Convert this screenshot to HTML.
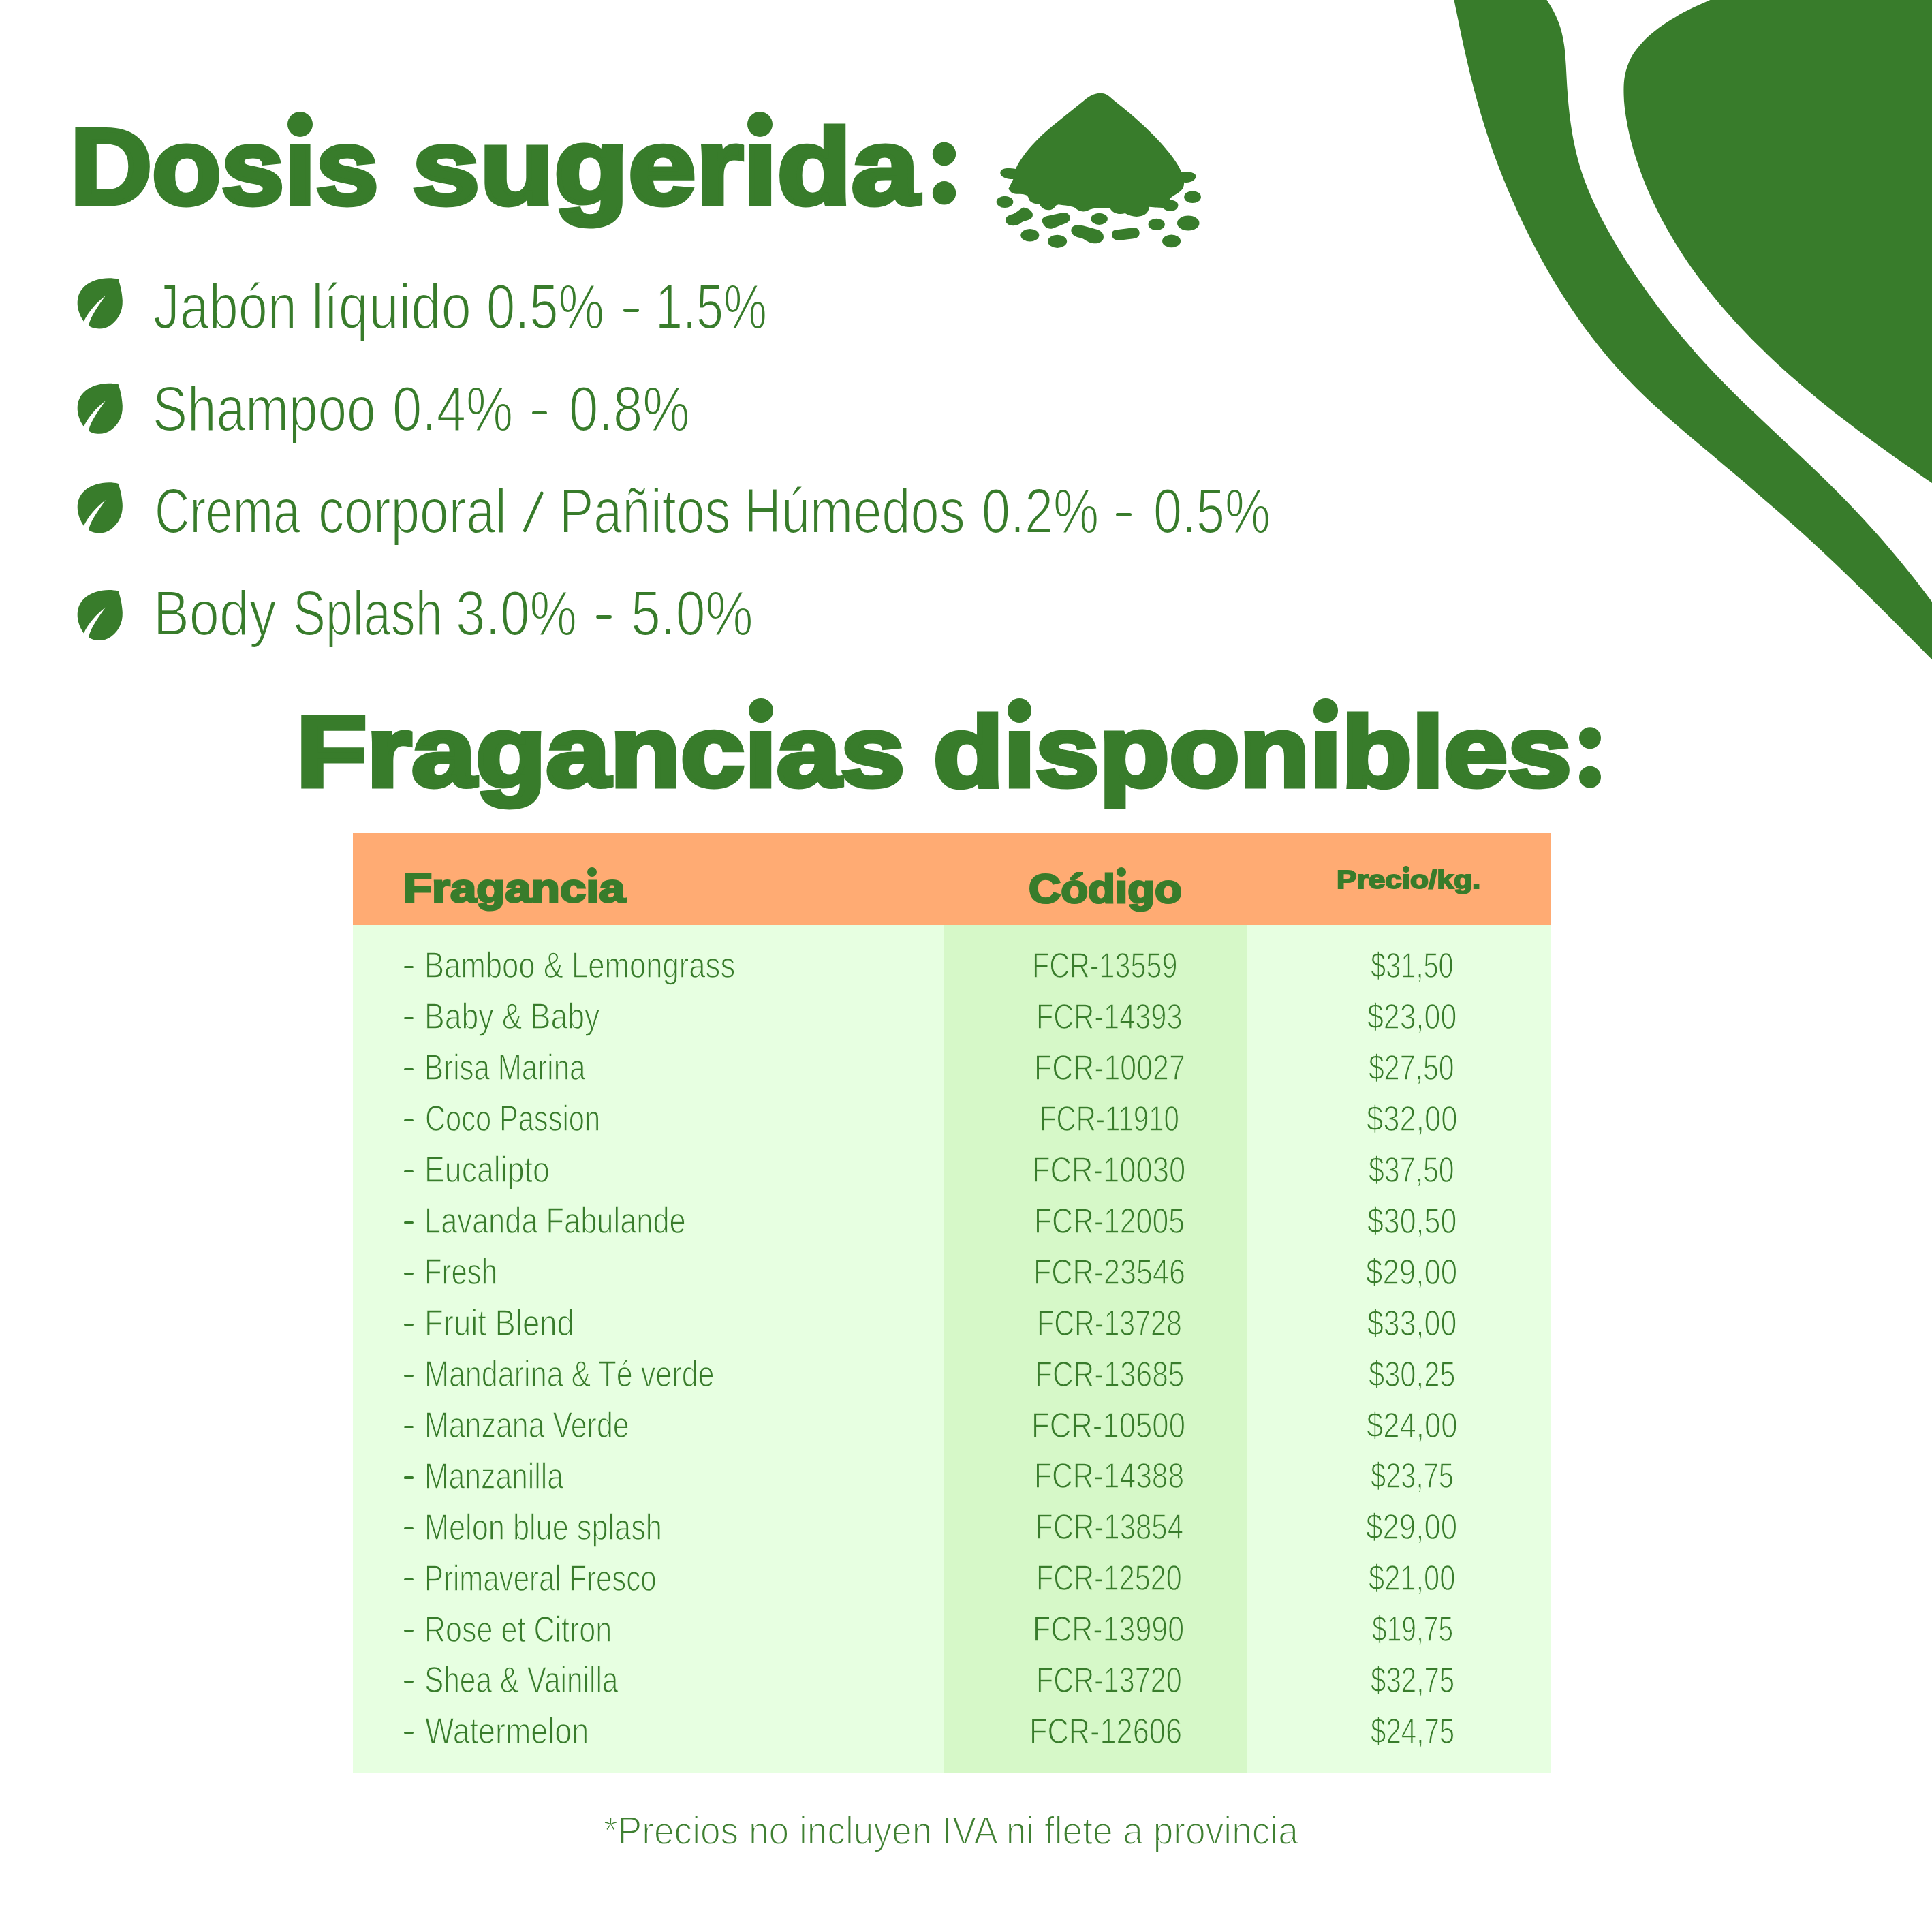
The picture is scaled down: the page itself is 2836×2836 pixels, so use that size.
<!DOCTYPE html>
<html lang="es"><head><meta charset="utf-8"><title>Dosis sugerida</title>
<style>
html,body{margin:0;padding:0;background:#fff;}
body{width:2836px;height:2836px;position:relative;overflow:hidden;font-family:"Liberation Sans",sans-serif;}
.t{position:absolute;white-space:nowrap;transform-origin:0 0;margin:0;padding:0;}
.r{position:absolute;}
svg{position:absolute;left:0;top:0;}
</style></head><body>
<svg width="2836" height="2836" viewBox="0 0 2836 2836" fill="#387C2B">
<path d="M2122.2,-60.0 C2123.5,-53.7 2127.4,-34.7 2130.0,-22.0 C2132.6,-9.3 2135.1,3.4 2137.7,16.1 C2140.3,28.8 2142.9,41.5 2145.6,54.2 C2148.3,66.9 2151.1,79.6 2154.1,92.2 C2157.0,104.8 2160.1,117.4 2163.4,129.9 C2166.7,142.5 2170.1,155.0 2173.8,167.4 C2177.5,179.8 2181.3,192.1 2185.4,204.4 C2189.5,216.7 2193.8,228.9 2198.4,241.0 C2203.0,253.1 2207.8,265.1 2212.8,277.0 C2217.8,289.0 2223.0,300.8 2228.4,312.6 C2233.9,324.4 2239.5,336.1 2245.3,347.7 C2251.2,359.3 2257.2,370.8 2263.5,382.2 C2269.7,393.6 2276.2,404.8 2282.9,415.9 C2289.6,427.1 2296.6,438.0 2303.7,448.8 C2310.9,459.6 2318.3,470.3 2325.9,480.7 C2333.6,491.2 2341.5,501.5 2349.6,511.5 C2357.7,521.6 2366.1,531.4 2374.8,541.0 C2383.4,550.6 2392.4,560.0 2401.5,569.2 C2410.6,578.3 2420.0,587.2 2429.5,596.0 C2439.0,604.8 2448.8,613.3 2458.6,621.8 C2468.3,630.3 2478.3,638.7 2488.2,647.0 C2498.1,655.4 2508.1,663.7 2518.0,672.0 C2527.9,680.4 2537.8,688.7 2547.7,697.1 C2557.6,705.5 2567.5,713.9 2577.3,722.4 C2587.1,730.8 2596.9,739.3 2606.6,747.8 C2616.4,756.4 2626.1,765.0 2635.7,773.6 C2645.4,782.3 2655.0,790.9 2664.5,799.7 C2674.0,808.5 2683.5,817.4 2692.8,826.3 C2702.2,835.2 2711.6,844.2 2720.8,853.2 C2730.1,862.3 2739.3,871.4 2748.5,880.5 C2757.7,889.7 2766.9,898.8 2776.1,908.0 C2785.2,917.2 2794.3,926.4 2803.5,935.6 C2812.6,944.8 2821.7,954.0 2830.9,963.2 C2840.0,972.4 2849.2,981.5 2858.4,990.7 C2867.6,999.8 2881.5,1013.4 2886.1,1017.9 L2875.1,939.9 C2872.5,936.0 2864.7,924.2 2859.3,916.4 C2854.0,908.6 2848.6,900.9 2843.0,893.3 C2837.5,885.6 2831.9,878.0 2826.3,870.5 C2820.6,863.0 2814.8,855.5 2809.0,848.1 C2803.1,840.7 2797.2,833.4 2791.2,826.1 C2785.3,818.8 2779.2,811.6 2773.1,804.4 C2766.9,797.2 2760.7,790.1 2754.5,783.1 C2748.2,776.1 2741.8,769.1 2735.4,762.1 C2729.0,755.2 2722.6,748.3 2716.1,741.5 C2709.5,734.7 2702.9,728.0 2696.3,721.3 C2689.6,714.5 2682.9,707.9 2676.2,701.3 C2669.4,694.7 2662.6,688.2 2655.8,681.7 C2648.9,675.2 2642.1,668.7 2635.2,662.2 C2628.3,655.8 2621.4,649.3 2614.5,642.9 C2607.6,636.4 2600.7,630.0 2593.8,623.5 C2586.9,617.1 2580.1,610.6 2573.2,604.1 C2566.4,597.6 2559.6,591.0 2552.9,584.4 C2546.2,577.8 2539.5,571.2 2532.9,564.5 C2526.3,557.8 2519.7,551.0 2513.3,544.2 C2506.8,537.3 2500.4,530.4 2494.1,523.4 C2487.8,516.4 2481.6,509.3 2475.5,502.1 C2469.4,495.0 2463.3,487.7 2457.4,480.4 C2451.5,473.1 2445.6,465.7 2439.9,458.3 C2434.1,450.8 2428.5,443.3 2422.9,435.6 C2417.4,428.0 2411.9,420.3 2406.6,412.5 C2401.2,404.7 2396.0,396.9 2390.9,388.9 C2385.7,381.0 2380.7,373.0 2375.8,364.9 C2370.9,356.8 2366.1,348.6 2361.5,340.3 C2356.8,332.1 2352.3,323.7 2348.1,315.3 C2343.9,306.8 2339.8,298.3 2336.0,289.6 C2332.2,281.0 2328.7,272.3 2325.5,263.5 C2322.3,254.6 2319.4,245.7 2316.9,236.7 C2314.4,227.6 2312.3,218.5 2310.4,209.3 C2308.5,200.1 2307.0,190.8 2305.7,181.4 C2304.3,172.1 2303.3,162.6 2302.4,153.2 C2301.5,143.7 2300.8,134.2 2300.2,124.8 C2299.6,115.3 2299.3,105.7 2298.7,96.3 C2298.0,86.8 2297.6,77.4 2296.3,68.1 C2294.9,58.9 2293.4,49.7 2290.6,40.9 C2287.8,32.0 2284.1,23.4 2279.7,15.1 C2275.3,6.8 2269.9,-1.2 2264.1,-8.9 C2258.4,-16.5 2251.9,-23.8 2245.4,-30.7 C2238.8,-37.5 2228.3,-46.8 2224.9,-50.0 Z"/>
<path d="M2620.0,-50.0 C2615.6,-47.6 2602.7,-40.1 2593.9,-35.7 C2585.0,-31.2 2576.0,-27.3 2567.0,-23.3 C2558.0,-19.4 2548.9,-15.8 2539.8,-12.1 C2530.7,-8.3 2521.6,-4.8 2512.5,-0.9 C2503.5,3.0 2494.5,6.8 2485.7,11.1 C2476.9,15.4 2468.1,19.8 2459.6,24.9 C2451.0,29.9 2442.5,35.3 2434.5,41.3 C2426.6,47.4 2418.5,54.0 2411.8,61.2 C2405.1,68.3 2398.8,76.1 2394.3,84.5 C2389.9,92.8 2386.9,102.0 2385.1,111.3 C2383.3,120.7 2383.3,130.7 2383.6,140.5 C2383.8,150.4 2385.1,160.4 2386.5,170.3 C2388.0,180.1 2390.0,190.0 2392.2,199.7 C2394.5,209.4 2397.3,219.0 2400.2,228.5 C2403.1,238.0 2406.4,247.4 2409.9,256.7 C2413.3,265.9 2417.1,275.0 2421.0,284.1 C2424.9,293.1 2429.1,301.9 2433.5,310.7 C2437.9,319.5 2442.5,328.1 2447.3,336.6 C2452.1,345.1 2457.1,353.6 2462.3,361.8 C2467.5,370.1 2472.9,378.3 2478.4,386.4 C2484.0,394.4 2489.7,402.4 2495.6,410.2 C2501.5,418.1 2507.5,425.8 2513.7,433.4 C2519.9,441.1 2526.2,448.6 2532.7,456.0 C2539.2,463.5 2545.8,470.8 2552.5,478.0 C2559.2,485.2 2566.1,492.3 2573.0,499.4 C2580.0,506.4 2587.1,513.3 2594.2,520.2 C2601.4,527.0 2608.6,533.7 2615.9,540.4 C2623.3,547.0 2630.7,553.6 2638.1,560.1 C2645.6,566.6 2653.2,572.9 2660.7,579.2 C2668.3,585.6 2676.0,591.8 2683.7,597.9 C2691.3,604.1 2699.1,610.1 2706.9,616.1 C2714.7,622.2 2722.5,628.1 2730.4,634.0 C2738.2,639.9 2746.1,645.7 2754.1,651.5 C2762.0,657.2 2770.0,663.0 2778.0,668.7 C2786.0,674.4 2794.1,680.0 2802.1,685.6 C2810.2,691.3 2818.3,696.9 2826.4,702.4 C2834.5,708.0 2842.7,713.5 2850.8,719.1 C2859.0,724.6 2867.1,730.1 2875.3,735.7 C2883.5,741.2 2895.8,749.5 2899.9,752.2 L2900,-60 Z"/>
<g transform="translate(1400,100) scale(0.23292)">
<path d="M925,158 C880,158 850,180 820,205 L640,350 C540,430 440,530 390,635 C350,630 310,625 295,650 C285,680 320,700 375,700 L345,760 C360,790 380,795 420,793 C450,795 465,800 470,815 C475,850 510,855 540,858 C560,900 620,910 645,865 L660,860 C700,865 740,870 760,878 C790,905 820,910 850,895 C880,880 920,880 985,882 C1000,915 1040,925 1080,915 C1120,940 1180,945 1215,915 C1228,900 1230,885 1232,875 C1270,880 1300,878 1318,882 C1340,905 1390,910 1410,880 C1425,850 1400,835 1360,828 C1380,795 1440,790 1450,740 L1452,720 C1500,725 1520,705 1528,685 C1525,655 1480,650 1435,655 C1400,570 1300,460 1200,365 C1120,290 1050,235 1000,195 C975,172 955,158 925,158 Z"/>

<ellipse cx="322" cy="843" rx="53" ry="37"/>
<ellipse cx="917" cy="950" rx="53" ry="37"/>
<ellipse cx="1278" cy="985" rx="52" ry="37"/>
<ellipse cx="1478" cy="977" rx="70" ry="47"/>
<ellipse cx="1505" cy="812" rx="53" ry="38"/>
<ellipse cx="480" cy="1053" rx="58" ry="40"/>
<ellipse cx="653" cy="1092" rx="60" ry="41"/>
<ellipse cx="1372" cy="1090" rx="58" ry="40"/>
<path d="M437,878 C470,882 498,900 498,925 C498,950 470,958 440,966 C420,972 415,990 385,992 C350,995 327,980 327,958 C327,935 350,925 372,920 C395,912 415,890 437,878 Z"/>
<path d="M590,932 L680,912 C715,905 735,925 733,948 C732,965 715,975 700,980 L625,1010 C595,1020 570,1000 560,975 C550,950 565,938 590,932 Z"/>
<path d="M770,990 C790,985 810,992 830,997 L905,1017 C935,1027 950,1050 943,1075 C935,1098 905,1108 875,1103 C850,1100 835,1085 815,1075 C795,1065 765,1068 748,1045 C730,1020 745,995 770,990 Z"/>
<path d="M1020,1020 L1130,1006 C1160,1003 1175,1025 1170,1048 C1165,1068 1145,1075 1125,1075 L1045,1085 C1015,1088 995,1070 996,1048 C997,1030 1005,1023 1020,1020 Z"/>
</g>
<path transform="translate(90,390.0) scale(0.15528)" d="M540,128 C440,105 300,120 215,200 C140,270 125,400 212,527 C260,430 330,350 418,283 C350,380 280,470 258,565 C300,600 400,612 470,560 C560,490 590,400 575,290 C570,230 555,180 540,128 Z"/>
<path transform="translate(90,544.4) scale(0.15528)" d="M540,128 C440,105 300,120 215,200 C140,270 125,400 212,527 C260,430 330,350 418,283 C350,380 280,470 258,565 C300,600 400,612 470,560 C560,490 590,400 575,290 C570,230 555,180 540,128 Z"/>
<path transform="translate(90,690.0) scale(0.15528)" d="M540,128 C440,105 300,120 215,200 C140,270 125,400 212,527 C260,430 330,350 418,283 C350,380 280,470 258,565 C300,600 400,612 470,560 C560,490 590,400 575,290 C570,230 555,180 540,128 Z"/>
<path transform="translate(90,847.6) scale(0.15528)" d="M540,128 C440,105 300,120 215,200 C140,270 125,400 212,527 C260,430 330,350 418,283 C350,380 280,470 258,565 C300,600 400,612 470,560 C560,490 590,400 575,290 C570,230 555,180 540,128 Z"/>

<circle cx="1386" cy="226" r="17.2"/><circle cx="1386" cy="283.3" r="17.2"/>
<circle cx="2334" cy="1083.3" r="16"/><circle cx="2334" cy="1140.7" r="16"/>

</svg>
<div class="r" style="left:518px;top:1223px;width:1758px;height:135px;background:#FFAB73"></div>
<div class="r" style="left:518px;top:1358px;width:1758px;height:1245px;background:#E7FFE1"></div>
<div class="r" style="left:1385.5px;top:1358px;width:445.3px;height:1245px;background:#D6F8C8"></div>
<div id="tx" style="position:absolute;left:0;top:0;width:2836px;height:2836px;will-change:transform">
<div class="t" style="left:103.03px;top:150.38px;font-size:157.27px;line-height:189px;font-weight:700;color:#387C2B;-webkit-text-stroke:7px #387C2B;transform:scaleX(1.0574)">Dosıs</div>
<div class="t" style="left:604.60px;top:150.38px;font-size:157.27px;line-height:189px;font-weight:700;color:#387C2B;-webkit-text-stroke:7px #387C2B;transform:scaleX(1.1350)">sugerıda</div>
<div class="t" style="left:435.26px;top:1015.11px;font-size:146.8px;line-height:176px;font-weight:700;color:#387C2B;-webkit-text-stroke:7px #387C2B;transform:scaleX(1.1523)">Fragancıas</div>
<div class="t" style="left:1369.93px;top:1015.11px;font-size:146.8px;line-height:176px;font-weight:700;color:#387C2B;-webkit-text-stroke:7px #387C2B;transform:scaleX(1.1486)">dısponıbles</div>
<div class="t" style="left:225.42px;top:394.90px;font-size:92.01px;line-height:110px;font-weight:400;color:#387C2B;-webkit-text-stroke:2px #fff;transform:scaleX(0.8408)">Jabón</div>
<div class="t" style="left:456.84px;top:394.90px;font-size:92.01px;line-height:110px;font-weight:400;color:#387C2B;-webkit-text-stroke:2px #fff;transform:scaleX(0.8664)">líquido</div>
<div class="t" style="left:714.30px;top:394.90px;font-size:92.01px;line-height:110px;font-weight:400;color:#387C2B;-webkit-text-stroke:2px #fff;transform:scaleX(0.8257)">0.5%</div>
<div class="t" style="left:962.35px;top:394.90px;font-size:92.01px;line-height:110px;font-weight:400;color:#387C2B;-webkit-text-stroke:2px #fff;transform:scaleX(0.7817)">1.5%</div>
<div class="t" style="left:224.44px;top:545.40px;font-size:92.01px;line-height:110px;font-weight:400;color:#387C2B;-webkit-text-stroke:2px #fff;transform:scaleX(0.8319)">Shampoo</div>
<div class="t" style="left:576.12px;top:545.40px;font-size:92.01px;line-height:110px;font-weight:400;color:#387C2B;-webkit-text-stroke:2px #fff;transform:scaleX(0.8445)">0.4%</div>
<div class="t" style="left:834.71px;top:545.40px;font-size:92.01px;line-height:110px;font-weight:400;color:#387C2B;-webkit-text-stroke:2px #fff;transform:scaleX(0.8465)">0.8%</div>
<div class="t" style="left:226.63px;top:694.70px;font-size:92.01px;line-height:110px;font-weight:400;color:#387C2B;-webkit-text-stroke:2px #fff;transform:scaleX(0.7734)">Crema</div>
<div class="t" style="left:466.67px;top:694.70px;font-size:92.01px;line-height:110px;font-weight:400;color:#387C2B;-webkit-text-stroke:2px #fff;transform:scaleX(0.8328)">corporal</div>
<div class="t" style="left:820.55px;top:694.70px;font-size:92.01px;line-height:110px;font-weight:400;color:#387C2B;-webkit-text-stroke:2px #fff;transform:scaleX(0.8190)">Pañitos</div>
<div class="t" style="left:1092.00px;top:694.70px;font-size:92.01px;line-height:110px;font-weight:400;color:#387C2B;-webkit-text-stroke:2px #fff;transform:scaleX(0.8244)">Húmedos</div>
<div class="t" style="left:1440.52px;top:694.70px;font-size:92.01px;line-height:110px;font-weight:400;color:#387C2B;-webkit-text-stroke:2px #fff;transform:scaleX(0.8207)">0.2%</div>
<div class="t" style="left:1692.92px;top:694.70px;font-size:92.01px;line-height:110px;font-weight:400;color:#387C2B;-webkit-text-stroke:2px #fff;transform:scaleX(0.8207)">0.5%</div>
<div class="t" style="left:225.01px;top:844.60px;font-size:92.01px;line-height:110px;font-weight:400;color:#387C2B;-webkit-text-stroke:2px #fff;transform:scaleX(0.8615)">Body</div>
<div class="t" style="left:430.40px;top:844.60px;font-size:92.01px;line-height:110px;font-weight:400;color:#387C2B;-webkit-text-stroke:2px #fff;transform:scaleX(0.7807)">Splash</div>
<div class="t" style="left:669.00px;top:844.60px;font-size:92.01px;line-height:110px;font-weight:400;color:#387C2B;-webkit-text-stroke:2px #fff;transform:scaleX(0.8490)">3.0%</div>
<div class="t" style="left:926.07px;top:844.60px;font-size:92.01px;line-height:110px;font-weight:400;color:#387C2B;-webkit-text-stroke:2px #fff;transform:scaleX(0.8564)">5.0%</div>
<div class="t" style="left:591.52px;top:1268.34px;font-size:59.88px;line-height:72px;font-weight:700;color:#387C2B;-webkit-text-stroke:3px #387C2B;transform:scaleX(1.1516)">Fragancıa</div>
<div class="t" style="left:1510.25px;top:1268.64px;font-size:59.59px;line-height:72px;font-weight:700;color:#387C2B;-webkit-text-stroke:3px #387C2B;transform:scaleX(1.0969)">Códıgo</div>
<div class="t" style="left:1961.83px;top:1268.50px;font-size:37.79px;line-height:45px;font-weight:700;color:#387C2B;-webkit-text-stroke:2px #387C2B;transform:scaleX(1.1696)">Precıo/kg.</div>
<div class="t" style="left:622.75px;top:1385.31px;font-size:52.76px;line-height:63px;font-weight:400;color:#387C2B;-webkit-text-stroke:1.3px #E7FFE1;transform:scaleX(0.8276)">Bamboo &amp; Lemongrass</div>
<div class="t" style="left:1515.41px;top:1386.06px;font-size:52.04px;line-height:62px;font-weight:400;color:#387C2B;-webkit-text-stroke:1.3px #D6F8C8;transform:scaleX(0.7932)">FCR-13559</div>
<div class="t" style="left:2011.70px;top:1386.06px;font-size:52.04px;line-height:62px;font-weight:400;color:#387C2B;-webkit-text-stroke:1.3px #E7FFE1;transform:scaleX(0.7646)">$31,50</div>
<div class="t" style="left:622.68px;top:1460.25px;font-size:52.76px;line-height:63px;font-weight:400;color:#387C2B;-webkit-text-stroke:1.3px #E7FFE1;transform:scaleX(0.8435)">Baby &amp; Baby</div>
<div class="t" style="left:1520.99px;top:1461.00px;font-size:52.04px;line-height:62px;font-weight:400;color:#387C2B;-webkit-text-stroke:1.3px #D6F8C8;transform:scaleX(0.7974)">FCR-14393</div>
<div class="t" style="left:2006.76px;top:1461.00px;font-size:52.04px;line-height:62px;font-weight:400;color:#387C2B;-webkit-text-stroke:1.3px #E7FFE1;transform:scaleX(0.8249)">$23,00</div>
<div class="t" style="left:622.89px;top:1535.19px;font-size:52.76px;line-height:63px;font-weight:400;color:#387C2B;-webkit-text-stroke:1.3px #E7FFE1;transform:scaleX(0.7988)">Brisa Marina</div>
<div class="t" style="left:1518.27px;top:1535.94px;font-size:52.04px;line-height:62px;font-weight:400;color:#387C2B;-webkit-text-stroke:1.3px #D6F8C8;transform:scaleX(0.8246)">FCR-10027</div>
<div class="t" style="left:2009.39px;top:1535.94px;font-size:52.04px;line-height:62px;font-weight:400;color:#387C2B;-webkit-text-stroke:1.3px #E7FFE1;transform:scaleX(0.7889)">$27,50</div>
<div class="t" style="left:623.71px;top:1610.13px;font-size:52.76px;line-height:63px;font-weight:400;color:#387C2B;-webkit-text-stroke:1.3px #E7FFE1;transform:scaleX(0.7901)">Coco Passion</div>
<div class="t" style="left:1525.60px;top:1610.88px;font-size:52.04px;line-height:62px;font-weight:400;color:#387C2B;-webkit-text-stroke:1.3px #D6F8C8;transform:scaleX(0.7733)">FCR-11910</div>
<div class="t" style="left:2005.65px;top:1610.88px;font-size:52.04px;line-height:62px;font-weight:400;color:#387C2B;-webkit-text-stroke:1.3px #E7FFE1;transform:scaleX(0.8390)">$32,00</div>
<div class="t" style="left:622.66px;top:1685.07px;font-size:52.76px;line-height:63px;font-weight:400;color:#387C2B;-webkit-text-stroke:1.3px #E7FFE1;transform:scaleX(0.8471)">Eucalipto</div>
<div class="t" style="left:1515.21px;top:1685.82px;font-size:52.04px;line-height:62px;font-weight:400;color:#387C2B;-webkit-text-stroke:1.3px #D6F8C8;transform:scaleX(0.8376)">FCR-10030</div>
<div class="t" style="left:2009.39px;top:1685.82px;font-size:52.04px;line-height:62px;font-weight:400;color:#387C2B;-webkit-text-stroke:1.3px #E7FFE1;transform:scaleX(0.7889)">$37,50</div>
<div class="t" style="left:622.77px;top:1760.01px;font-size:52.76px;line-height:63px;font-weight:400;color:#387C2B;-webkit-text-stroke:1.3px #E7FFE1;transform:scaleX(0.8227)">Lavanda Fabulande</div>
<div class="t" style="left:1518.28px;top:1760.76px;font-size:52.04px;line-height:62px;font-weight:400;color:#387C2B;-webkit-text-stroke:1.3px #D6F8C8;transform:scaleX(0.8215)">FCR-12005</div>
<div class="t" style="left:2006.76px;top:1760.76px;font-size:52.04px;line-height:62px;font-weight:400;color:#387C2B;-webkit-text-stroke:1.3px #E7FFE1;transform:scaleX(0.8249)">$30,50</div>
<div class="t" style="left:622.91px;top:1834.95px;font-size:52.76px;line-height:63px;font-weight:400;color:#387C2B;-webkit-text-stroke:1.3px #E7FFE1;transform:scaleX(0.7940)">Fresh</div>
<div class="t" style="left:1517.15px;top:1835.70px;font-size:52.04px;line-height:62px;font-weight:400;color:#387C2B;-webkit-text-stroke:1.3px #D6F8C8;transform:scaleX(0.8288)">FCR-23546</div>
<div class="t" style="left:2004.95px;top:1835.70px;font-size:52.04px;line-height:62px;font-weight:400;color:#387C2B;-webkit-text-stroke:1.3px #E7FFE1;transform:scaleX(0.8435)">$29,00</div>
<div class="t" style="left:622.59px;top:1909.89px;font-size:52.76px;line-height:63px;font-weight:400;color:#387C2B;-webkit-text-stroke:1.3px #E7FFE1;transform:scaleX(0.8615)">Fruit Blend</div>
<div class="t" style="left:1521.82px;top:1910.64px;font-size:52.04px;line-height:62px;font-weight:400;color:#387C2B;-webkit-text-stroke:1.3px #D6F8C8;transform:scaleX(0.7917)">FCR-13728</div>
<div class="t" style="left:2006.76px;top:1910.64px;font-size:52.04px;line-height:62px;font-weight:400;color:#387C2B;-webkit-text-stroke:1.3px #E7FFE1;transform:scaleX(0.8249)">$33,00</div>
<div class="t" style="left:622.80px;top:1984.83px;font-size:52.76px;line-height:63px;font-weight:400;color:#387C2B;-webkit-text-stroke:1.3px #E7FFE1;transform:scaleX(0.8169)">Mandarina &amp; Té verde</div>
<div class="t" style="left:1519.11px;top:1985.58px;font-size:52.04px;line-height:62px;font-weight:400;color:#387C2B;-webkit-text-stroke:1.3px #D6F8C8;transform:scaleX(0.8158)">FCR-13685</div>
<div class="t" style="left:2009.38px;top:1985.58px;font-size:52.04px;line-height:62px;font-weight:400;color:#387C2B;-webkit-text-stroke:1.3px #E7FFE1;transform:scaleX(0.8011)">$30,25</div>
<div class="t" style="left:622.82px;top:2059.77px;font-size:52.76px;line-height:63px;font-weight:400;color:#387C2B;-webkit-text-stroke:1.3px #E7FFE1;transform:scaleX(0.8136)">Manzana Verde</div>
<div class="t" style="left:1514.49px;top:2060.52px;font-size:52.04px;line-height:62px;font-weight:400;color:#387C2B;-webkit-text-stroke:1.3px #D6F8C8;transform:scaleX(0.8402)">FCR-10500</div>
<div class="t" style="left:2005.65px;top:2060.52px;font-size:52.04px;line-height:62px;font-weight:400;color:#387C2B;-webkit-text-stroke:1.3px #E7FFE1;transform:scaleX(0.8390)">$24,00</div>
<div class="t" style="left:622.84px;top:2134.71px;font-size:52.76px;line-height:63px;font-weight:400;color:#387C2B;-webkit-text-stroke:1.3px #E7FFE1;transform:scaleX(0.8092)">Manzanilla</div>
<div class="t" style="left:1518.29px;top:2135.46px;font-size:52.04px;line-height:62px;font-weight:400;color:#387C2B;-webkit-text-stroke:1.3px #D6F8C8;transform:scaleX(0.8188)">FCR-14388</div>
<div class="t" style="left:2012.40px;top:2135.46px;font-size:52.04px;line-height:62px;font-weight:400;color:#387C2B;-webkit-text-stroke:1.3px #E7FFE1;transform:scaleX(0.7652)">$23,75</div>
<div class="t" style="left:622.78px;top:2209.65px;font-size:52.76px;line-height:63px;font-weight:400;color:#387C2B;-webkit-text-stroke:1.3px #E7FFE1;transform:scaleX(0.8205)">Melon blue splash</div>
<div class="t" style="left:1520.25px;top:2210.40px;font-size:52.04px;line-height:62px;font-weight:400;color:#387C2B;-webkit-text-stroke:1.3px #D6F8C8;transform:scaleX(0.8070)">FCR-13854</div>
<div class="t" style="left:2004.95px;top:2210.40px;font-size:52.04px;line-height:62px;font-weight:400;color:#387C2B;-webkit-text-stroke:1.3px #E7FFE1;transform:scaleX(0.8435)">$29,00</div>
<div class="t" style="left:622.90px;top:2284.59px;font-size:52.76px;line-height:63px;font-weight:400;color:#387C2B;-webkit-text-stroke:1.3px #E7FFE1;transform:scaleX(0.7961)">Primaveral Fresco</div>
<div class="t" style="left:1521.00px;top:2285.34px;font-size:52.04px;line-height:62px;font-weight:400;color:#387C2B;-webkit-text-stroke:1.3px #D6F8C8;transform:scaleX(0.7948)">FCR-12520</div>
<div class="t" style="left:2008.68px;top:2285.34px;font-size:52.04px;line-height:62px;font-weight:400;color:#387C2B;-webkit-text-stroke:1.3px #E7FFE1;transform:scaleX(0.8005)">$21,00</div>
<div class="t" style="left:622.80px;top:2359.53px;font-size:52.76px;line-height:63px;font-weight:400;color:#387C2B;-webkit-text-stroke:1.3px #E7FFE1;transform:scaleX(0.8164)">Rose et Citron</div>
<div class="t" style="left:1516.36px;top:2360.28px;font-size:52.04px;line-height:62px;font-weight:400;color:#387C2B;-webkit-text-stroke:1.3px #D6F8C8;transform:scaleX(0.8261)">FCR-13990</div>
<div class="t" style="left:2014.31px;top:2360.28px;font-size:52.04px;line-height:62px;font-weight:400;color:#387C2B;-webkit-text-stroke:1.3px #E7FFE1;transform:scaleX(0.7479)">$19,75</div>
<div class="t" style="left:622.97px;top:2434.47px;font-size:52.76px;line-height:63px;font-weight:400;color:#387C2B;-webkit-text-stroke:1.3px #E7FFE1;transform:scaleX(0.8038)">Shea &amp; Vainilla</div>
<div class="t" style="left:1521.00px;top:2435.22px;font-size:52.04px;line-height:62px;font-weight:400;color:#387C2B;-webkit-text-stroke:1.3px #D6F8C8;transform:scaleX(0.7948)">FCR-13720</div>
<div class="t" style="left:2011.70px;top:2435.22px;font-size:52.04px;line-height:62px;font-weight:400;color:#387C2B;-webkit-text-stroke:1.3px #E7FFE1;transform:scaleX(0.7742)">$32,75</div>
<div class="t" style="left:623.65px;top:2509.41px;font-size:52.76px;line-height:63px;font-weight:400;color:#387C2B;-webkit-text-stroke:1.3px #E7FFE1;transform:scaleX(0.8504)">Watermelon</div>
<div class="t" style="left:1510.83px;top:2510.16px;font-size:52.04px;line-height:62px;font-weight:400;color:#387C2B;-webkit-text-stroke:1.3px #D6F8C8;transform:scaleX(0.8330)">FCR-12606</div>
<div class="t" style="left:2011.70px;top:2510.16px;font-size:52.04px;line-height:62px;font-weight:400;color:#387C2B;-webkit-text-stroke:1.3px #E7FFE1;transform:scaleX(0.7742)">$24,75</div>
<div class="t" style="left:886.37px;top:2652.94px;font-size:57.85px;line-height:69px;font-weight:400;color:#3F8032;-webkit-text-stroke:1.8px #fff;transform:scaleX(0.9202)">*Precios no incluyen IVA ni flete a provincia</div>
<div class="r" style="left:915.2px;top:453.1px;width:22.9px;height:4.8px;border-radius:2.4px;background:#387C2B"></div>
<div class="r" style="left:780.5px;top:603.6px;width:22.8px;height:4.8px;border-radius:2.4px;background:#387C2B"></div>
<svg width="40" height="70" viewBox="0 0 40 70" style="left:762.6px;top:716.6px"><line x1="7.4" y1="61.7" x2="32.1" y2="7.0" stroke="#387C2B" stroke-width="4.8" stroke-linecap="round"/></svg>
<div class="r" style="left:1638.1px;top:752.9px;width:22.9px;height:4.8px;border-radius:2.4px;background:#387C2B"></div>
<div class="r" style="left:874.8px;top:902.8px;width:22.8px;height:4.8px;border-radius:2.4px;background:#387C2B"></div>
<div class="r" style="left:592.9px;top:1418.05px;width:14.2px;height:3.1px;border-radius:1.6px;background:#387C2B"></div>
<div class="r" style="left:592.9px;top:1492.99px;width:14.2px;height:3.1px;border-radius:1.6px;background:#387C2B"></div>
<div class="r" style="left:592.9px;top:1567.93px;width:14.2px;height:3.1px;border-radius:1.6px;background:#387C2B"></div>
<div class="r" style="left:592.9px;top:1642.87px;width:14.2px;height:3.1px;border-radius:1.6px;background:#387C2B"></div>
<div class="r" style="left:592.9px;top:1717.81px;width:14.2px;height:3.1px;border-radius:1.6px;background:#387C2B"></div>
<div class="r" style="left:592.9px;top:1792.75px;width:14.2px;height:3.1px;border-radius:1.6px;background:#387C2B"></div>
<div class="r" style="left:592.9px;top:1867.69px;width:14.2px;height:3.1px;border-radius:1.6px;background:#387C2B"></div>
<div class="r" style="left:592.9px;top:1942.63px;width:14.2px;height:3.1px;border-radius:1.6px;background:#387C2B"></div>
<div class="r" style="left:592.9px;top:2017.57px;width:14.2px;height:3.1px;border-radius:1.6px;background:#387C2B"></div>
<div class="r" style="left:592.9px;top:2092.51px;width:14.2px;height:3.1px;border-radius:1.6px;background:#387C2B"></div>
<div class="r" style="left:592.9px;top:2167.45px;width:14.2px;height:3.1px;border-radius:1.6px;background:#387C2B"></div>
<div class="r" style="left:592.9px;top:2242.39px;width:14.2px;height:3.1px;border-radius:1.6px;background:#387C2B"></div>
<div class="r" style="left:592.9px;top:2317.33px;width:14.2px;height:3.1px;border-radius:1.6px;background:#387C2B"></div>
<div class="r" style="left:592.9px;top:2392.27px;width:14.2px;height:3.1px;border-radius:1.6px;background:#387C2B"></div>
<div class="r" style="left:592.9px;top:2467.21px;width:14.2px;height:3.1px;border-radius:1.6px;background:#387C2B"></div>
<div class="r" style="left:592.9px;top:2542.15px;width:14.2px;height:3.1px;border-radius:1.6px;background:#387C2B"></div>
<div class="r" style="left:421.5px;top:163.8px;width:37.6px;height:37.6px;border-radius:50%;background:#387C2B"></div>
<div class="r" style="left:1096.7px;top:163.8px;width:37.6px;height:37.6px;border-radius:50%;background:#387C2B"></div>
<div class="r" style="left:1099.0px;top:1025.3px;width:35.6px;height:35.6px;border-radius:50%;background:#387C2B"></div>
<div class="r" style="left:1478.5px;top:1025.3px;width:35.6px;height:35.6px;border-radius:50%;background:#387C2B"></div>
<div class="r" style="left:1928.1px;top:1025.3px;width:35.6px;height:35.6px;border-radius:50%;background:#387C2B"></div>
<div class="r" style="left:862.3px;top:1273.2px;width:14px;height:14px;border-radius:50%;background:#387C2B"></div>
<div class="r" style="left:1639.4px;top:1273.2px;width:14px;height:14px;border-radius:50%;background:#387C2B"></div>
<div class="r" style="left:2058.9px;top:1271.3px;width:9.8px;height:9.8px;border-radius:50%;background:#387C2B"></div>
</div>
</body></html>
